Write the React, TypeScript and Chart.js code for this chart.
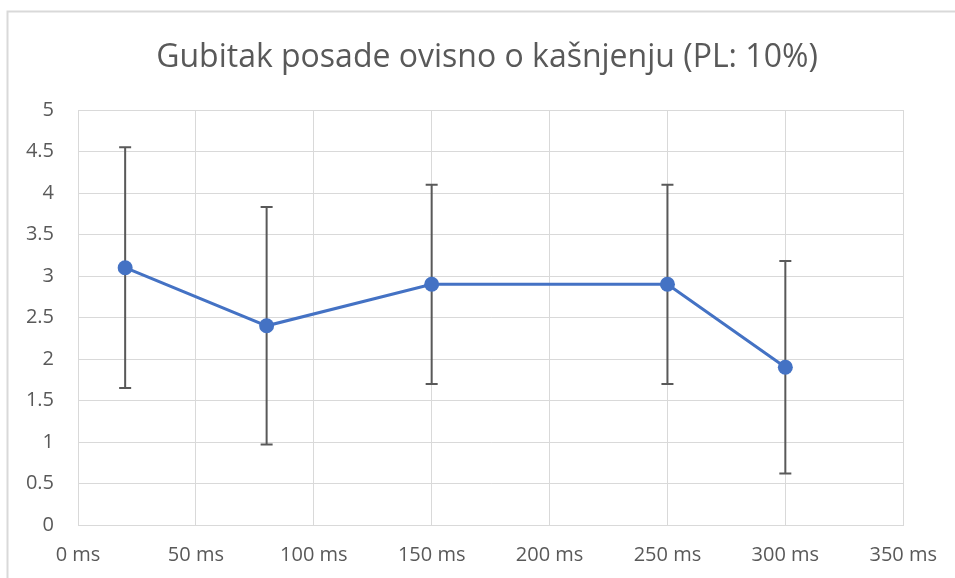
import React, { useEffect, useRef } from "react";
import { Chart, registerables } from "chart.js";

Chart.register(...registerables);

const TITLE = "Gubitak posade ovisno o kašnjenju (PL: 10%)";
const delaysMs = [20, 80, 150, 250, 300];
const crewLoss = [3.1, 2.4, 2.9, 2.9, 1.9];
const errorBars = [1.45, 1.43, 1.2, 1.2, 1.28];
const xTickStep = 50;
const xMax = 350;
const yTickStep = 0.5;
const yMax = 5;

const TEXT = "#595959";
const GRID = "#d9d9d9";
const BLUE = "#4472C4";
const FONT = "Open Sans";

const errorBarPlugin = {
  id: "errorBars",
  beforeDatasetsDraw(chart: any) {
    const { ctx, scales } = chart;
    const xs = scales.x;
    const ys = scales.y;
    ctx.save();
    ctx.strokeStyle = "#595959";
    ctx.lineWidth = 2;
    delaysMs.forEach((d, i) => {
      const px = xs.getPixelForValue(d);
      const top = ys.getPixelForValue(crewLoss[i] + errorBars[i]);
      const bot = ys.getPixelForValue(crewLoss[i] - errorBars[i]);
      ctx.beginPath();
      ctx.moveTo(px, top);
      ctx.lineTo(px, bot);
      ctx.moveTo(px - 6, top);
      ctx.lineTo(px + 6, top);
      ctx.moveTo(px - 6, bot);
      ctx.lineTo(px + 6, bot);
      ctx.stroke();
    });
    ctx.restore();
  },
};

const framePlugin = {
  id: "frameAndTitle",
  beforeDraw(chart: any) {
    const { ctx, width, height } = chart;
    ctx.save();
    ctx.fillStyle = "#ffffff";
    ctx.fillRect(0, 0, width, height);
    ctx.strokeStyle = GRID;
    ctx.lineWidth = 2;
    ctx.beginPath();
    ctx.moveTo(7.5, height);
    ctx.lineTo(7.5, 11.5);
    ctx.lineTo(width, 11.5);
    ctx.stroke();
    ctx.fillStyle = TEXT;
    ctx.font = `32px "${FONT}"`;
    ctx.textAlign = "center";
    ctx.textBaseline = "middle";
    ctx.fillText(TITLE, 487, 58);
    ctx.restore();
  },
};

export default function App() {
  const ref = useRef<HTMLCanvasElement | null>(null);
  useEffect(() => {
    document.body.style.margin = "0";
    if (!ref.current) return;
    const chart = new Chart(ref.current, {
      type: "line",
      data: {
        datasets: [
          {
            label: "Gubitak posade",
            data: delaysMs.map((d, i) => ({ x: d, y: crewLoss[i] })),
            borderColor: BLUE,
            backgroundColor: BLUE,
            borderWidth: 3,
            pointRadius: 7.5,
            pointHoverRadius: 7.5,
            pointBackgroundColor: BLUE,
            pointBorderWidth: 0,
            tension: 0,
          },
        ],
      },
      options: {
        animation: false,
        responsive: false,
        maintainAspectRatio: false,
        layout: { padding: { left: 0, right: 51, top: 110, bottom: 0 } },
        plugins: {
          legend: { display: false },
          tooltip: { enabled: false },
          title: { display: false },
        },
        scales: {
          x: {
            type: "linear",
            min: 0,
            max: xMax,
            border: { color: GRID, width: 1 },
            grid: { color: GRID, lineWidth: 1, drawTicks: false },
            ticks: {
              stepSize: xTickStep,
              color: TEXT,
              font: { family: FONT, size: 20 },
              padding: 18,
              maxRotation: 0,
              callback: (v: any) => `${v} ms`,
            },
            afterFit: (s: any) => {
              s.height = 53;
            },
          },
          y: {
            min: 0,
            max: yMax,
            border: { color: GRID, width: 1 },
            grid: { color: GRID, lineWidth: 1, drawTicks: false },
            ticks: {
              stepSize: yTickStep,
              color: TEXT,
              font: { family: FONT, size: 20 },
              padding: 24,
              callback: (v: any) => `${+Number(v).toFixed(1)}`,
            },
            afterFit: (s: any) => {
              s.width = 78;
            },
          },
        },
      },
      plugins: [framePlugin, errorBarPlugin],
    });
    return () => chart.destroy();
  }, []);
  return <canvas ref={ref} width={955} height={578} style={{ display: "block" }} />;
}
